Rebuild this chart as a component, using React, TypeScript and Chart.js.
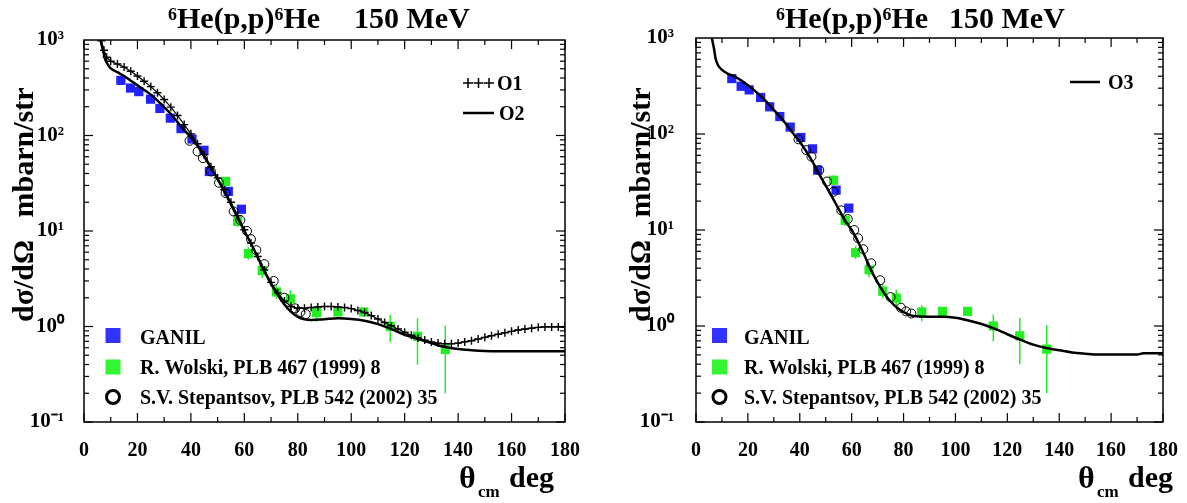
import React, { useEffect, useRef } from 'react';
import { Chart, registerables } from 'chart.js';

Chart.register(...registerables);

const FONT = '"Liberation Serif", "Times New Roman", serif';
const BLUE = '#2222ff';
const GREEN = '#22ee22';

// Axis ticks
const xTickValues = [0, 20, 40, 60, 80, 100, 120, 140, 160, 180];
const yTickValues = [0.1, 1, 10, 100, 1000];
const yTickLabels = ['10⁻¹', '10⁰', '10¹', '10²', '10³'];

// GANIL data
const ganilAngle = [13.8, 17.4, 20.5, 24.9, 28.4, 32.3, 36.3, 40.4, 44.9, 46.9, 54.0, 58.9];
const ganilValue = [378, 314, 288, 240, 192, 152, 118, 92, 70, 42, 26, 16.9];

// R. Wolski, PLB 467 (1999) 8
const wolskiAngle = [53.0, 57.5, 61.5, 66.7, 72.0, 77.2, 87.0, 95.0, 104.7, 114.6, 124.8, 135.2];
const wolskiValue = [33, 12.6, 5.8, 3.85, 2.3, 1.95, 1.4, 1.42, 1.42, 1.0, 0.79, 0.575];
const wolskiLow = [29, 11, 5.0, 3.2, 1.95, 1.65, 1.12, 1.3, 1.3, 0.69, 0.4, 0.2];
const wolskiHigh = [37, 14.5, 6.8, 4.6, 2.75, 2.4, 1.65, 1.55, 1.55, 1.32, 1.22, 1.02];

// S.V. Stepantsov, PLB 542 (2002) 35
const stepAngle = [39.5, 42.5, 44.5, 47.5, 50.5, 53.0, 56.0, 58.5, 61.0, 62.5, 64.5, 67.5, 71.0, 75.0, 79.0, 81.0, 83.0];
const stepValue = [88, 68, 58, 42, 32, 25, 16, 13, 10, 8.2, 6.3, 4.5, 3.0, 2.0, 1.55, 1.42, 1.35];

// Calculation O1 (crosses)
const o1Angle = [6.5, 7.5, 8.5, 10, 12.5, 15, 17.5, 20, 22.5, 25, 27.5, 30, 32.5, 35, 37.5, 40, 42.5, 45, 47.5, 50,
  52.5, 55, 57.5, 60, 62.5, 65, 67.5, 70, 72.5, 75, 77.5, 80, 82.5, 85, 87.5, 90, 92.5, 95, 97.5, 100,
  102.5, 105, 107.5, 110, 112.5, 115, 117.5, 120, 122.5, 125, 127.5, 130, 132.5, 135, 137.5, 140, 142.5, 145, 147.5, 150,
  152.5, 155, 157.5, 160, 162.5, 165, 167.5, 170, 172.5, 175, 177.5, 180];
const o1Value = [980, 780, 660, 600, 560, 520, 470, 420, 370, 325, 280, 238, 198, 162, 130, 104, 82, 63, 47, 36,
  27, 20, 14.5, 10.3, 7.5, 5.4, 3.9, 2.9, 2.25, 1.85, 1.62, 1.55, 1.55, 1.58, 1.6, 1.62, 1.62, 1.6, 1.58, 1.54,
  1.47, 1.4, 1.3, 1.2, 1.1, 1.02, 0.94, 0.87, 0.81, 0.76, 0.72, 0.69, 0.67, 0.66, 0.66, 0.67, 0.69, 0.71, 0.74, 0.77,
  0.8, 0.83, 0.86, 0.89, 0.92, 0.94, 0.96, 0.98, 0.99, 0.99, 0.99, 0.98];

// Calculation O2 (solid, left panel)
const o2Angle = [6.2, 7, 8, 9, 10, 12.5, 15, 17.5, 20, 22.5, 25, 27.5, 30, 32.5, 35, 37.5, 40, 42.5, 45, 47.5, 50,
  52.5, 55, 57.5, 60, 62.5, 65, 67.5, 70, 72.5, 75, 77.5, 80, 82.5, 85, 90, 95, 100, 105, 110, 115, 120, 125, 130,
  135, 140, 145, 150, 160, 170, 180];
const o2Value = [1000, 800, 620, 550, 505, 460, 420, 375, 335, 300, 268, 232, 198, 168, 138, 114, 96, 78, 60, 46, 35,
  26, 19, 13.8, 10, 7.4, 5.3, 3.8, 2.8, 2.15, 1.7, 1.42, 1.26, 1.19, 1.17, 1.19, 1.22, 1.2, 1.15, 1.06, 0.94, 0.82, 0.74, 0.67,
  0.61, 0.58, 0.565, 0.555, 0.55, 0.55, 0.55];

// Calculation O3 (solid, right panel)
const o3Angle = [6.1, 7, 7.5, 8.5, 9.7, 11, 12.6, 15, 17.5, 20, 22.5, 25, 27.5, 30, 32.5, 35, 37.5, 40, 42.5, 45, 47.5, 50,
  52.5, 55, 57.5, 60, 62.5, 65, 67.5, 70, 72.5, 75, 77.5, 80, 82.5, 85, 90, 95, 100, 105, 110, 115, 120, 125, 130,
  135, 140, 145, 150, 155, 160, 170, 172.5, 180];
const o3Value = [1000, 760, 620, 520, 475, 445, 420, 395, 360, 322, 285, 248, 212, 178, 150, 124, 101, 83, 66, 51, 38, 29,
  22, 16.5, 12.5, 10, 7.5, 5.4, 3.8, 2.85, 2.2, 1.8, 1.55, 1.4, 1.3, 1.26, 1.25, 1.25, 1.22, 1.14, 1.05, 0.94, 0.82, 0.72, 0.64,
  0.59, 0.56, 0.53, 0.515, 0.505, 0.505, 0.505, 0.52, 0.52];

const titleMain = '⁶He(p,p)⁶He';
const titleEnergy = '150 MeV';
const yTitle = 'dσ/dΩ   mbarn/str';
const legendGanil = 'GANIL';
const legendWolski = 'R. Wolski, PLB 467 (1999) 8';
const legendStep = 'S.V. Stepantsov, PLB 542 (2002) 35';

const pts = (xs: number[], ys: number[]) => xs.map((x, i) => ({ x, y: ys[i] }));

function drawCross(ctx: CanvasRenderingContext2D, cx: number, cy: number, r: number) {
  ctx.beginPath();
  ctx.moveTo(cx - r, cy); ctx.lineTo(cx + r, cy);
  ctx.moveTo(cx, cy - r); ctx.lineTo(cx, cy + r);
  ctx.stroke();
}

const decor = {
  id: 'decor',
  beforeDatasetsDraw(chart: any) {
    const { ctx, scales: { x, y } } = chart;
    ctx.save();
    ctx.strokeStyle = GREEN;
    ctx.lineWidth = 1.5;
    wolskiAngle.forEach((a, i) => {
      const px = x.getPixelForValue(a);
      ctx.beginPath();
      ctx.moveTo(px, y.getPixelForValue(wolskiLow[i]));
      ctx.lineTo(px, y.getPixelForValue(wolskiHigh[i]));
      ctx.stroke();
    });
    ctx.restore();
  },
  afterDraw(chart: any, _args: any, o: any) {
    const { ctx, chartArea: ca, scales: { x, y } } = chart;
    ctx.save();
    ctx.strokeStyle = '#000';
    ctx.lineWidth = 1.5;
    ctx.strokeRect(ca.left, ca.top, ca.right - ca.left, ca.bottom - ca.top);
    ctx.lineWidth = 1.2;
    const seg = (x1: number, y1: number, x2: number, y2: number) => {
      ctx.beginPath(); ctx.moveTo(x1, y1); ctx.lineTo(x2, y2); ctx.stroke();
    };
    for (let v = x.min; v <= x.max; v += 10) {
      const px = x.getPixelForValue(v);
      const len = v % 20 === 0 ? 9 : 5;
      seg(px, ca.bottom, px, ca.bottom - len);
      seg(px, ca.top, px, ca.top + len);
    }
    for (let e = -1; e <= 2; e++) {
      for (let s = 1; s <= 9; s++) {
        const py = y.getPixelForValue(s * Math.pow(10, e));
        const len = s === 1 ? 9 : 5;
        seg(ca.left, py, ca.left + len, py);
        seg(ca.right, py, ca.right - len, py);
      }
    }
    // title
    ctx.fillStyle = '#000';
    ctx.textBaseline = 'alphabetic';
    ctx.textAlign = 'left';
    ctx.font = `bold 30px ${FONT}`;
    ctx.fillText(titleMain, o.titleX, 28);
    ctx.fillText(titleEnergy, o.titleX2, 28);
    // y title
    ctx.save();
    ctx.translate(o.yTitleX, 322);
    ctx.rotate(-Math.PI / 2);
    ctx.font = `bold 30px ${FONT}`;
    ctx.fillText(yTitle, 0, 0);
    ctx.restore();
    // x title
    ctx.font = `bold 32px ${FONT}`;
    ctx.fillText('θ', o.thetaX, 488);
    ctx.font = `bold 17px ${FONT}`;
    ctx.fillText('cm', o.thetaX + 19, 497);
    ctx.font = `bold 30px ${FONT}`;
    ctx.fillText('deg', o.thetaX + 50, 487);
    // top-right legend
    ctx.font = `bold 20px ${FONT}`;
    o.topLegend.forEach((it: any) => {
      if (it.kind === 'cross') {
        ctx.lineWidth = 1.5;
        [it.x1 + 5, it.x1 + 15.5, it.x1 + 26].forEach((cx: number) => drawCross(ctx, cx, it.y, 5));
      } else {
        ctx.lineWidth = 2.5;
        seg(it.x1, it.y, it.x2, it.y);
      }
      ctx.fillText(it.text, it.tx, it.y + 7);
    });
    // bottom-left legend
    const sx = o.sx, tx = o.tx;
    ctx.fillStyle = '#3333ff';
    ctx.fillRect(sx - 7.5, 335.5 - 7.5, 15, 15);
    ctx.fillStyle = '#33f533';
    ctx.fillRect(sx - 7.5, 367 - 7.5, 15, 15);
    ctx.strokeStyle = '#000';
    ctx.lineWidth = 3;
    ctx.beginPath(); ctx.arc(sx, 397, 6.5, 0, Math.PI * 2); ctx.stroke();
    ctx.fillStyle = '#000';
    ctx.fillText(legendGanil, tx, 344);
    ctx.fillText(legendWolski, tx, 374);
    ctx.fillText(legendStep, tx, 404);
    ctx.restore();
  },
};

function buildDatasets(curves: any[]) {
  return [
    ...curves,
    {
      label: 'S.V. Stepantsov', data: pts(stepAngle, stepValue), showLine: false,
      pointStyle: 'circle', pointRadius: 4.5, pointBorderWidth: 1, pointBorderColor: '#000',
      pointBackgroundColor: 'rgba(0,0,0,0)',
    },
    {
      label: 'GANIL', data: pts(ganilAngle, ganilValue), showLine: false,
      pointStyle: 'rect', pointRadius: 6.5, pointBorderWidth: 0, pointBorderColor: BLUE, pointBackgroundColor: BLUE,
    },
    {
      label: 'R. Wolski', data: pts(wolskiAngle, wolskiValue), showLine: false,
      pointStyle: 'rect', pointRadius: 6.5, pointBorderWidth: 0, pointBorderColor: GREEN, pointBackgroundColor: GREEN,
    },
  ];
}

function Panel(props: { left: number; width: number; area: any; decorOpts: any; curves: any[]; yPad: number }) {
  const ref = useRef<HTMLCanvasElement>(null);
  useEffect(() => {
    const { width, area, decorOpts, curves, yPad } = props;
    const chart = new Chart(ref.current as HTMLCanvasElement, {
      type: 'scatter',
      data: { datasets: buildDatasets(curves) as any },
      options: {
        animation: false,
        responsive: false,
        devicePixelRatio: 1,
        events: [],
        layout: { padding: { left: 0, top: area.top, right: width - area.right, bottom: 0 } },
        plugins: {
          legend: { display: false },
          tooltip: { enabled: false },
          title: { display: false },
          decor: decorOpts,
        } as any,
        scales: {
          x: {
            type: 'linear', min: 0, max: 180,
            afterBuildTicks: (s: any) => { s.ticks = xTickValues.map((v) => ({ value: v })); },
            afterFit: (s: any) => { s.height = 503 - area.bottom; },
            ticks: {
              autoSkip: false, maxRotation: 0, padding: 9, color: '#000',
              font: { family: FONT, size: 20, weight: 'bold' },
              callback: (v: any) => String(v),
            },
            grid: { display: false },
            border: { display: false },
          },
          y: {
            type: 'logarithmic', min: 0.1, max: 1000,
            afterBuildTicks: (s: any) => { s.ticks = yTickValues.map((v) => ({ value: v })); },
            afterFit: (s: any) => { s.width = area.left; },
            ticks: {
              autoSkip: false, padding: yPad, color: '#000',
              font: { family: FONT, size: 21, weight: 'bold' },
              callback: (v: any) => yTickLabels[yTickValues.indexOf(Number(v))] ?? '',
            },
            grid: { display: false },
            border: { display: false },
          },
        },
      } as any,
      plugins: [decor],
    });
    return () => chart.destroy();
  }, []);
  return (
    <canvas
      ref={ref}
      width={props.width}
      height={503}
      style={{ position: 'absolute', left: props.left, top: 0, width: props.width, height: 503 }}
    />
  );
}

const leftCurves = [
  {
    label: 'O2', data: pts(o2Angle, o2Value), showLine: true, borderColor: '#000', borderWidth: 2.5,
    pointRadius: 0, cubicInterpolationMode: 'monotone',
  },
  {
    label: 'O1', data: pts(o1Angle, o1Value), showLine: true, borderColor: '#000', borderWidth: 1.2,
    pointStyle: 'cross', pointRadius: 4, pointBorderColor: '#000', pointBorderWidth: 1.4,
  },
];

const rightCurves = [
  {
    label: 'O3', data: pts(o3Angle, o3Value), showLine: true, borderColor: '#000', borderWidth: 2.5,
    pointRadius: 0, cubicInterpolationMode: 'monotone',
  },
];

export default function App() {
  return (
    <div style={{ position: 'absolute', left: 0, top: 0, width: 1187, height: 503, background: '#fff', overflow: 'hidden' }}>
      <Panel
        left={0}
        width={600}
        area={{ left: 84, top: 40, right: 565, bottom: 422 }}
        yPad={12}
        curves={leftCurves}
        decorOpts={{
          titleX: 168, titleX2: 354, yTitleX: 33, thetaX: 459, sx: 113, tx: 140,
          topLegend: [
            { kind: 'cross', x1: 463, x2: 494, y: 83, text: 'O1', tx: 497 },
            { kind: 'line', x1: 463, x2: 494, y: 113, text: 'O2', tx: 499 },
          ],
        }}
      />
      <Panel
        left={600}
        width={587}
        area={{ left: 96, top: 38, right: 564, bottom: 422 }}
        yPad={14}
        curves={rightCurves}
        decorOpts={{
          titleX: 176, titleX2: 349, yTitleX: 50, thetaX: 478, sx: 119.5, tx: 144,
          topLegend: [{ kind: 'line', x1: 470, x2: 500, y: 82, text: 'O3', tx: 508 }],
        }}
      />
    </div>
  );
}
